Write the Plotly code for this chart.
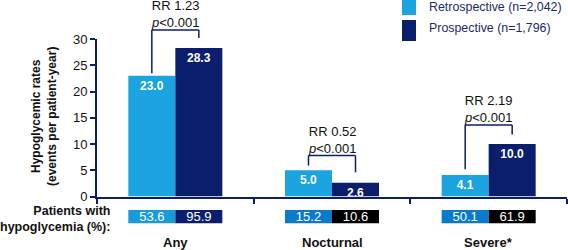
import plotly.graph_objects as go

# ---- data ----
categories = ["Any", "Nocturnal", "Severe*"]
retro_rates = [23.0, 5.0, 4.1]
prosp_rates = [28.3, 2.6, 10.0]
retro_pct = [53.6, 15.2, 50.1]
prosp_pct = [95.9, 10.6, 61.9]
rr_labels = ["RR 1.23", "RR 0.52", "RR 2.19"]
p_labels = ["<i>p</i><0.001", "<i>p</i><0.001", "<i>p</i><0.001"]
series_names = ["Retrospective (n=2,042)", "Prospective (n=1,796)"]
y_ticks = [0, 5, 10, 15, 20, 25, 30]

# ---- style / layout ----
W, H = 568, 250
ML, MR = 97, 1
PW = W - ML - MR
LIGHT = "#1ba4df"
NAVY = "#0b1e6c"
TABLE_LIGHT = ["#1a9ad8", "#0b7acb", "#0b7acb"]
TABLE_DARK = [NAVY, "#000000", "#000000"]
FONT = "Liberation Sans, Arial, sans-serif"

Y0_PX, Y30_PX = 196.5, 39.0  # main plot bottom/top in pixels
YMAX = 30
dom_main = [1 - Y0_PX / H, 1 - Y30_PX / H]
dom_table = [1 - 223.5 / H, 1 - 210 / H]


def px(x):
    return (x - ML) / PW


def py(y):
    return 1 - y / H


def data_to_paper(v):
    return dom_main[0] + v / YMAX * (dom_main[1] - dom_main[0])


fig = go.Figure()

fig.add_trace(go.Bar(
    x=categories, y=retro_rates, name=series_names[0], marker_color=LIGHT,
    marker_line_width=0,
    text=[f"{v:.1f}" for v in retro_rates], textposition="inside",
    insidetextanchor="end", textangle=0, constraintext="none",
    textfont=dict(color="white", size=12, family=FONT, weight="bold"),
    showlegend=False,
))
fig.add_trace(go.Bar(
    x=categories, y=prosp_rates, name=series_names[1], marker_color=NAVY,
    marker_line_width=0,
    text=[f"{v:.1f}" for v in prosp_rates], textposition="inside",
    insidetextanchor="end", textangle=0, constraintext="none",
    textfont=dict(color="white", size=12, family=FONT, weight="bold"),
    showlegend=False,
))

# table row of percentages
fig.add_trace(go.Bar(
    x=categories, y=[1] * len(categories), yaxis="y2", marker_color=TABLE_LIGHT,
    marker_line_width=0,
    text=[f"{v:.1f}" for v in retro_pct], textposition="inside",
    insidetextanchor="middle", textangle=0, constraintext="none",
    textfont=dict(color="white", size=13, family=FONT),
    showlegend=False, hoverinfo="skip",
))
fig.add_trace(go.Bar(
    x=categories, y=[1] * len(categories), yaxis="y2", marker_color=TABLE_DARK,
    marker_line_width=0,
    text=[f"{v:.1f}" for v in prosp_pct], textposition="inside",
    insidetextanchor="middle", textangle=0, constraintext="none",
    textfont=dict(color="white", size=13, family=FONT),
    showlegend=False, hoverinfo="skip",
))

shapes = []
annotations = []

# significance brackets: (top, left leg bottom, right leg bottom) in data units
bracket_geom = [(31.7, 23.5, 30.2), (7.8, 5.9, 4.6), (13.6, 5.2, 11.8)]
half = 0.15  # bar centre offset (bar width 0.3 of category)
for i, (top, lb, rb) in enumerate(bracket_geom):
    xl, xr = i - half, i + half
    line = dict(color=NAVY, width=1.5)
    shapes.append(dict(type="line", xref="x", yref="paper", x0=xl, x1=xl,
                       y0=data_to_paper(lb), y1=data_to_paper(top), line=line))
    shapes.append(dict(type="line", xref="x", yref="paper", x0=xr, x1=xr,
                       y0=data_to_paper(rb), y1=data_to_paper(top), line=line))
    shapes.append(dict(type="line", xref="x", yref="paper", x0=xl, x1=xr,
                       y0=data_to_paper(top), y1=data_to_paper(top), line=line))
    annotations.append(dict(
        x=i, xref="x", y=data_to_paper(top), yref="paper", yanchor="bottom",
        xanchor="center", yshift=-2, showarrow=False, align="center",
        text=f"{rr_labels[i]}<br>{p_labels[i]}",
        font=dict(size=13, color="#111111", family=FONT),
    ))

# category labels
for c in categories:
    annotations.append(dict(
        x=c, xref="x", y=py(242), yref="paper", showarrow=False,
        xanchor="center", yanchor="middle",
        text=f"<b>{c}</b>", font=dict(size=13, color="#111111", family=FONT),
    ))

# table row label
annotations.append(dict(
    x=px(112), xref="paper", y=py(218.5), yref="paper", xanchor="right",
    yanchor="middle", showarrow=False, align="right",
    text="<b>Patients with<br>hypoglycemia (%):</b>",
    font=dict(size=12.5, color="#111111", family=FONT),
))

# y axis title
annotations.append(dict(
    x=px(44), xref="paper", y=py(117), yref="paper", showarrow=False,
    xanchor="center", yanchor="middle",
    textangle=-90, text="<b>Hypoglycemic rates<br>(events per patient-year)</b>",
    font=dict(size=12, color="#111111", family=FONT),
))

# legend
legend_colors = [LIGHT, NAVY]
legend_boxes = [(0, 15), (20, 41)]
legend_text_y = [7, 28]
for name, col, (t, b), ty in zip(series_names, legend_colors, legend_boxes, legend_text_y):
    shapes.append(dict(type="rect", xref="paper", yref="paper",
                       x0=px(402), x1=px(416), y0=py(b), y1=py(t),
                       fillcolor=col, line=dict(width=0)))
    annotations.append(dict(
        x=px(427), xref="paper", y=py(ty), yref="paper", xanchor="left",
        yanchor="middle", showarrow=False, text=name,
        font=dict(size=12.4, color="#1b2a6b", family=FONT),
    ))

fig.update_layout(
    width=W, height=H,
    margin=dict(l=ML, r=MR, t=0, b=0, autoexpand=False),
    paper_bgcolor="white", plot_bgcolor="white",
    barmode="group", bargap=0.4, bargroupgap=0,
    font=dict(family=FONT, color="#111111"),
    xaxis=dict(type="category", categoryorder="array", categoryarray=categories,
               showticklabels=False, tickson="boundaries", ticks="outside",
               ticklen=5, tickwidth=2, tickcolor=NAVY,
               showline=True, linecolor=NAVY, linewidth=2,
               showgrid=False, zeroline=False, anchor="y", fixedrange=True,
               automargin=False),
    yaxis=dict(domain=dom_main, range=[0, YMAX], tickvals=y_ticks,
               ticks="outside", ticklen=5, tickwidth=2, tickcolor=NAVY,
               showline=True, linecolor=NAVY, linewidth=2,
               showgrid=False, zeroline=False, automargin=False,
               tickfont=dict(size=13, color="#111111", family=FONT)),
    yaxis2=dict(domain=dom_table, range=[0, 1], anchor="x", visible=False,
                showgrid=False, zeroline=False),
    shapes=shapes,
    annotations=annotations,
    showlegend=False,
)

fig.write_html(
    "out.html",
    config={"displayModeBar": False},
    post_script="document.body.style.margin='0';document.body.style.padding='0';",
)
